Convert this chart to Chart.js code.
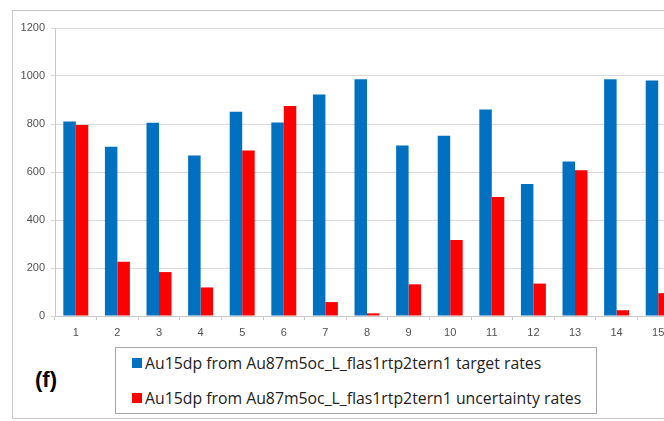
<!DOCTYPE html>
<html>
<head>
<meta charset="utf-8">
<script src="https://cdn.jsdelivr.net/npm/chart.js@4"></script>
<style>
  html, body { margin: 0; padding: 0; background: #fff; overflow: hidden; width: 664px; height: 421px; }
  #frame { position: absolute; left: 12px; top: 10px; width: 700px; height: 407px; border: 1px solid #c8c8c8; }
  #wrap { position: absolute; left: 0; top: 0; width: 690px; height: 345px; }
  #legend-box { position: absolute; left: 115px; top: 347px; width: 482px; height: 67px; border: 1px solid #a6a6a6; box-sizing: border-box; }
  #legend-box ul { list-style: none; margin: 0; padding: 0; }
  #legend-box li { position: absolute; left: 16px; height: 20px; display: flex; align-items: center; font-family: 'Open Sans', sans-serif; font-size: 15.8px; color: #222; white-space: nowrap; }
  #legend-box li span { display: inline-block; width: 10px; height: 10px; margin-right: 3px; }
  #tag { position: absolute; left: 35px; top: 367px; font-family: 'Liberation Sans', Arial, sans-serif; font-weight: bold; font-size: 22px; color: #000; }
</style>
</head>
<body>
<div id="frame"></div>
<div id="wrap"><canvas id="chart"></canvas></div>
<div id="legend-box"></div>
<div id="tag">(f)</div>
<script>
const categories = ['1', '2', '3', '4', '5', '6', '7', '8', '9', '10', '11', '12', '13', '14', '15'];
const targetRates = [810, 705, 805, 669, 851, 806, 923, 986, 710, 751, 860, 550, 644, 986, 981];
const uncertaintyRates = [796, 226, 183, 119, 690, 875, 58, 11, 132, 317, 496, 135, 607, 24, 95];
const yTicks = [0, 200, 400, 600, 800, 1000, 1200];

const legendTops = [5, 40];

// legend drawn in an html box under the chart
const htmlLegendPlugin = {
    id: 'htmlLegend',
    afterUpdate(chart) {
        const box = document.getElementById('legend-box');
        box.innerHTML = '';
        const ul = document.createElement('ul');
        chart.data.datasets.forEach((ds, i) => {
            const li = document.createElement('li');
            li.style.top = legendTops[i] + 'px';
            const sw = document.createElement('span');
            sw.style.background = ds.backgroundColor;
            li.appendChild(sw);
            li.appendChild(document.createTextNode(ds.label));
            ul.appendChild(li);
        });
        box.appendChild(ul);
    }
};

const data = {
    labels: categories,
    datasets: [
        {
            label: 'Au15dp from Au87m5oc_L_flas1rtp2tern1 target rates',
            data: targetRates,
            backgroundColor: '#0070c0',
        },
        {
            label: 'Au15dp from Au87m5oc_L_flas1rtp2tern1 uncertainty rates',
            data: uncertaintyRates,
            backgroundColor: '#ff0000',
        }
    ]
};

const config = {
    type: 'bar',
    data: data,
    options: {
        responsive: true,
        maintainAspectRatio: false,
        animation: false,
        layout: { padding: { top: 28, right: 11, left: 0, bottom: 0 } },
        datasets: {
            bar: { categoryPercentage: 0.6, barPercentage: 1.0 }
        },
        scales: {
            x: {
                grid: {
                    drawOnChartArea: false,
                    offset: true,
                    tickLength: 4,
                    color: '#c8c8c8',
                },
                border: { color: '#c8c8c8' },
                ticks: {
                    color: '#505050',
                    font: { family: 'Liberation Sans', size: 11 },
                    padding: 6,
                    maxRotation: 0,
                },
                afterFit(scale) { scale.height = 29; },
            },
            y: {
                min: 0,
                max: 1200,
                afterBuildTicks(scale) { scale.ticks = yTicks.map(v => ({ value: v })); },
                grid: {
                    color: '#d9d9d9',
                    tickLength: 4,
                },
                border: { color: '#c8c8c8' },
                ticks: {
                    color: '#505050',
                    font: { family: 'Liberation Sans', size: 11 },
                    padding: 6,
                    callback: (v) => String(v),
                },
                afterFit(scale) { scale.width = 55; },
            },
        },
        plugins: {
            legend: { display: false },
            tooltip: { enabled: false },
        },
    },
    plugins: [htmlLegendPlugin],
};

const ctx = document.getElementById('chart').getContext('2d');
const chart = new Chart(ctx, config);
</script>
</body>
</html>
